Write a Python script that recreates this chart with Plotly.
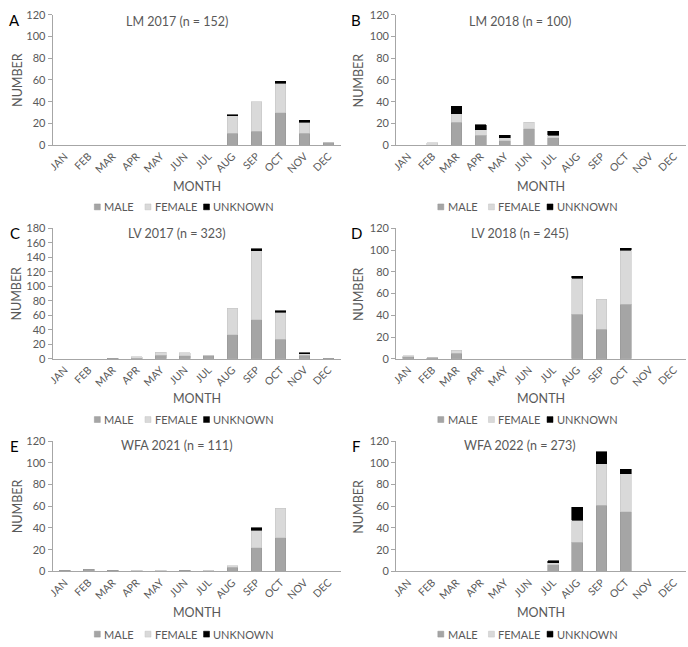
import plotly.graph_objects as go

months = ["JAN", "FEB", "MAR", "APR", "MAY", "JUN", "JUL", "AUG", "SEP", "OCT", "NOV", "DEC"]
series_names = ["MALE", "FEMALE", "UNKNOWN"]

titles = ["LM 2017 (n = 152)", "LM 2018 (n = 100)", "LV 2017 (n = 323)",
          "LV 2018 (n = 245)", "WFA 2021 (n = 111)", "WFA 2022 (n = 273)"]
letters = ["A", "B", "C", "D", "E", "F"]
y_max = [120, 120, 180, 120, 120, 120]

lm2017_male    = [0, 0, 0, 0, 0, 0, 0, 11, 13, 30, 11, 2]
lm2017_female  = [0, 0, 0, 0, 0, 0, 0, 16, 27, 27, 10, 0]
lm2017_unknown = [0, 0, 0, 0, 0, 0, 0, 1, 0, 2, 2, 0]

lm2018_male    = [0, 0, 21, 9, 4, 15, 7, 0, 0, 0, 0, 0]
lm2018_female  = [0, 2, 8, 5, 3, 6, 2, 0, 0, 0, 0, 0]
lm2018_unknown = [0, 0, 7, 5, 2, 0, 4, 0, 0, 0, 0, 0]

lv2017_male    = [0, 0, 1, 1, 5, 4, 4, 33, 54, 27, 5, 1]
lv2017_female  = [0, 0, 0, 2, 4, 4, 1, 37, 95, 37, 2, 0]
lv2017_unknown = [0, 0, 0, 0, 0, 0, 0, 0, 3, 2, 1, 0]

lv2018_male    = [2, 1, 5, 0, 0, 0, 0, 41, 27, 50, 0, 0]
lv2018_female  = [1, 0, 3, 0, 0, 0, 0, 33, 28, 50, 0, 0]
lv2018_unknown = [0, 0, 0, 0, 0, 0, 0, 2, 0, 2, 0, 0]

wfa2021_male    = [1, 2, 1, 0, 0, 1, 0, 4, 22, 31, 0, 0]
wfa2021_female  = [0, 0, 0, 1, 1, 0, 1, 1, 16, 27, 0, 0]
wfa2021_unknown = [0, 0, 0, 0, 0, 0, 0, 0, 2, 0, 0, 0]

wfa2022_male    = [0, 0, 0, 0, 0, 0, 6, 27, 61, 55, 0, 0]
wfa2022_female  = [0, 0, 0, 0, 0, 0, 2, 20, 38, 35, 0, 0]
wfa2022_unknown = [0, 0, 0, 0, 0, 0, 2, 12, 11, 4, 0, 0]

panels = [
    (lm2017_male, lm2017_female, lm2017_unknown),
    (lm2018_male, lm2018_female, lm2018_unknown),
    (lv2017_male, lv2017_female, lv2017_unknown),
    (lv2018_male, lv2018_female, lv2018_unknown),
    (wfa2021_male, wfa2021_female, wfa2021_unknown),
    (wfa2022_male, wfa2022_female, wfa2022_unknown),
]

W, H = 688, 647
FONT = "Lato"
GREY = "#595959"
colors = ["#a5a5a5", "#d9d9d9", "#000000"]
edge = ["#969696", "#c4c4c4", "#000000"]

# pixel layout of plot areas (left, right, top, bottom)
px_x = [(48, 338), (394, 686)]
px_y = [(8, 141), (226, 359), (443, 576)]
title_y = [15, 231, 448]
legend_y = [204, 421, 640]
month_y = [183, 400, 618]
chart_cx = [173, 519]
legend_sq_off = [-80, -29, 30]   # legend square centres relative to chart centre (px)

fig = go.Figure()
annotations = []
shapes = []
layout = {}


def px(x):
    return x / W


def py(y):
    return 1 - y / H


for i, data in enumerate(panels):
    row, col = divmod(i, 2)
    k = i + 1
    xa = "x" if k == 1 else f"x{k}"
    ya = "y" if k == 1 else f"y{k}"
    for s in range(3):
        vals = [v if v else None for v in data[s]]
        fig.add_trace(go.Bar(
            x=months, y=vals, name=series_names[s], showlegend=False,
            marker=dict(color=colors[s], line=dict(color=edge[s], width=0.6)),
            xaxis=xa, yaxis=ya, width=0.45,
        ))
    x0, x1 = px_x[col]
    y0, y1 = px_y[row]
    layout["xaxis" if k == 1 else f"xaxis{k}"] = dict(
        domain=[px(x0), px(x1)], anchor=ya, type="category",
        categoryorder="array", categoryarray=months,
        tickangle=-45, showline=True, linecolor="#a6a6a6", linewidth=1,
        ticks="", showgrid=False, zeroline=False,
        tickfont=dict(family=FONT, size=10.5, color=GREY),
        range=[-0.5, 11.5],
    )
    layout["yaxis" if k == 1 else f"yaxis{k}"] = dict(
        domain=[py(y1), py(y0)], anchor=xa, range=[0, y_max[i]], dtick=20,
        showline=True, linecolor="#a6a6a6", linewidth=1,
        ticks="outside", ticklen=4, tickcolor="#a6a6a6",
        showgrid=False, zeroline=False,
        tickfont=dict(family=FONT, size=11, color=GREY),
    )
    annotations.append(dict(
        text=titles[i], x=px(chart_cx[col]), y=py(title_y[row]),
        xref="paper", yref="paper", showarrow=False, xanchor="center", yanchor="middle",
        font=dict(family=FONT, size=12.5, color=GREY),
    ))
    annotations.append(dict(
        text=letters[i], x=px(col * 344 + 10), y=py(y0 + 5),
        xref="paper", yref="paper", showarrow=False, xanchor="center", yanchor="middle",
        font=dict(family=FONT, size=15, color="#000000"),
    ))
    annotations.append(dict(
        text="MONTH", x=px((x0 + x1) / 2), y=py(month_y[row]),
        xref="paper", yref="paper", showarrow=False, xanchor="center", yanchor="middle",
        font=dict(family=FONT, size=12.5, color=GREY),
    ))
    annotations.append(dict(
        text="NUMBER", x=px(col * 344 + 12), y=py((y0 + y1) / 2),
        xref="paper", yref="paper", showarrow=False, xanchor="center", yanchor="middle",
        textangle=-90, font=dict(family=FONT, size=12.5, color=GREY),
    ))
    # legend: small squares + labels
    for s in range(3):
        cx = chart_cx[col] + legend_sq_off[s]
        cy = legend_y[row]
        shapes.append(dict(
            type="rect", xref="paper", yref="paper",
            x0=px(cx - 3), x1=px(cx + 3), y0=py(cy + 3), y1=py(cy - 3),
            fillcolor=colors[s], line=dict(color=edge[s], width=0.5),
        ))
        annotations.append(dict(
            text=series_names[s], x=px(cx + 5), y=py(cy),
            xref="paper", yref="paper", showarrow=False, xanchor="left", yanchor="middle",
            font=dict(family=FONT, size=11, color=GREY),
        ))

fig.update_layout(
    width=W, height=H, margin=dict(l=0, r=0, t=0, b=0),
    barmode="stack", bargap=0.55, showlegend=False,
    paper_bgcolor="white", plot_bgcolor="white",
    annotations=annotations, shapes=shapes, **layout,
)

fig.write_html(
    "out.html",
    config={"displayModeBar": False, "staticPlot": True},
    post_script="document.documentElement.style.margin='0px';document.body.style.margin='0px';document.body.style.padding='0px';document.body.style.overflow='hidden';",
)
